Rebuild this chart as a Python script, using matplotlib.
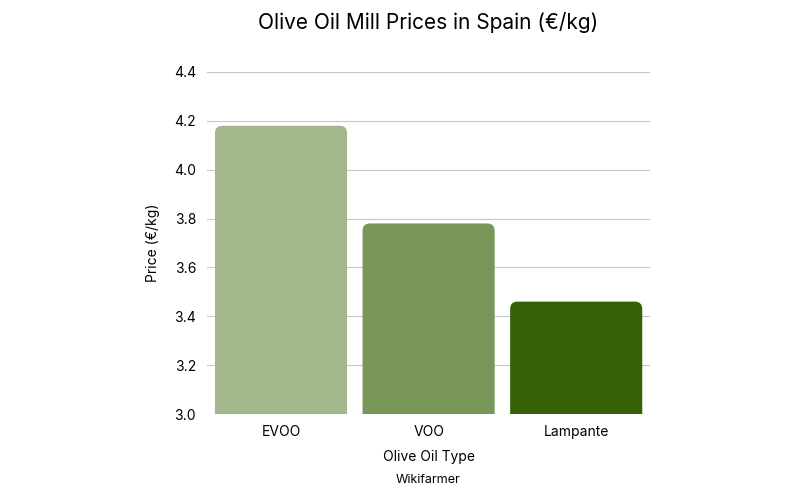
import matplotlib
matplotlib.use("Agg")
import matplotlib.pyplot as plt
from matplotlib.patches import FancyBboxPatch

categories = ["EVOO", "VOO", "Lampante"]
prices = [4.18, 3.78, 3.46]
colors = ["#a3b78c", "#789658", "#356004"]
yticks = [3.0, 3.2, 3.4, 3.6, 3.8, 4.0, 4.2, 4.4]

plt.rcParams['font.family'] = ['Inter', 'DejaVu Sans']
fig = plt.figure(figsize=(8, 5), dpi=100)
ax = fig.add_axes([0.259, 0.172, 0.5535, 0.684])
ax.set_xlim(-0.5, 2.5)
ax.set_ylim(3.0, 4.4)
w = 0.895
xpx = 3 / 443
ypx = 1.4 / 342
for i, (v, c) in enumerate(zip(prices, colors)):
    p = FancyBboxPatch((i - w / 2, 2.8), w, v - 2.8,
                       boxstyle="round,pad=0,rounding_size=0.05",
                       mutation_aspect=ypx / xpx, fc=c, ec="none", zorder=3)
    ax.add_patch(p)
ax.set_xticks(range(len(categories)))
ax.set_xticklabels(categories, fontsize=10)
ax.set_yticks(yticks)
ax.set_yticklabels([f"{t:.1f}" for t in yticks], fontsize=10)
ax.tick_params(length=0, pad=8)
ax.grid(axis='y', color='#c8c8c8', lw=0.8, zorder=0)
for s in ax.spines.values():
    s.set_visible(False)
ax.set_xlabel("Olive Oil Type", fontsize=10, labelpad=8)
ax.set_ylabel("Price (€/kg)", fontsize=10, labelpad=10)
fig.text(0.535, 0.955, "Olive Oil Mill Prices in Spain (€/kg)", ha='center', va='center', fontsize=15)
fig.text(0.535, 0.04, "Wikifarmer", ha='center', va='center', fontsize=9)
fig.savefig("out.png")
